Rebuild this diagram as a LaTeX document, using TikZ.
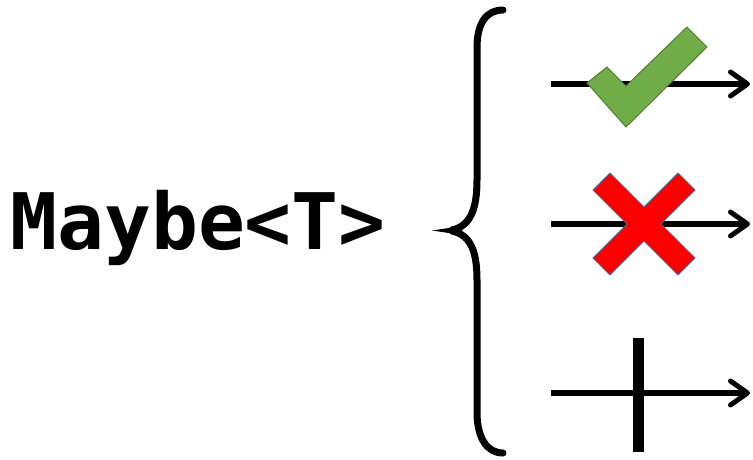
\documentclass[tikz,border=0pt]{standalone}
\usepackage{fontspec}
\setmonofont{DejaVu Sans Mono}
\usepackage{xcolor}
\usetikzlibrary{arrows.meta}
\tikzset{>={Straight Barb[length=17pt,width=24pt,line width=5pt,round]}}
\definecolor{mygreen}{HTML}{70AD47}
\definecolor{mygreenedge}{HTML}{507E32}
\definecolor{myred}{HTML}{FF0000}
\definecolor{myrededge}{HTML}{41719C}
\tikzset{
  flow/.style={->,line width=5.5pt},
  icon/.style={line width=1pt,line join=miter},
}

\begin{document}
\begin{tikzpicture}[x=1pt,y=-1pt]
  \useasboundingbox (0,0) rectangle (753,459);

  \def\xa{551}
  \def\xb{750}
  \coordinate (A1) at (\xa,84);
  \coordinate (B1) at (\xb,84);
  \coordinate (A2) at (\xa,224);
  \coordinate (B2) at (\xb,224);
  \coordinate (A3) at (\xa,393);
  \coordinate (B3) at (\xb,393);

  % TYPE
  \node[anchor=base west,inner sep=0pt,font=\ttfamily\bfseries\fontsize{78}{78}\selectfont]
    (maybe) at (10,249) {Maybe<T>};

  % BRACE
  \draw[line width=7pt,line cap=round]
    (503,10) .. controls (487,10) and (477,22) .. (477,48) -- (477,180)
    .. controls (477,210) and (470,226) .. (452,230);
  \draw[line width=7pt,line cap=round]
    (452,231) .. controls (470,235) and (477,250) .. (477,280) -- (477,412)
    .. controls (477,438) and (487,453) .. (503,453);
  \fill (462,226) -- (432,230.5) -- (462,235) -- cycle;

  % ARROWS
  \draw[flow] (A1) -- (B1);
  \draw[flow] (A2) -- (B2);
  \draw[flow] (A3) -- (B3);

  % CHECK
  \filldraw[icon,fill=mygreen,draw=mygreenedge]
    (587,83) -- (607,67) -- (626,86) -- (687,27) -- (707,47) -- (626,127) -- cycle;

  % CROSS
  \filldraw[icon,fill=myred,draw=myrededge]
    (593,190) -- (610,173) -- (644,207) -- (678,173) -- (695,190)
    -- (661,224) -- (695,258) -- (678,275) -- (644,241) -- (610,275)
    -- (593,258) -- (627,224) -- cycle;

  % BAR
  \fill (633,338) rectangle (644,452);

\end{tikzpicture}
\end{document}
